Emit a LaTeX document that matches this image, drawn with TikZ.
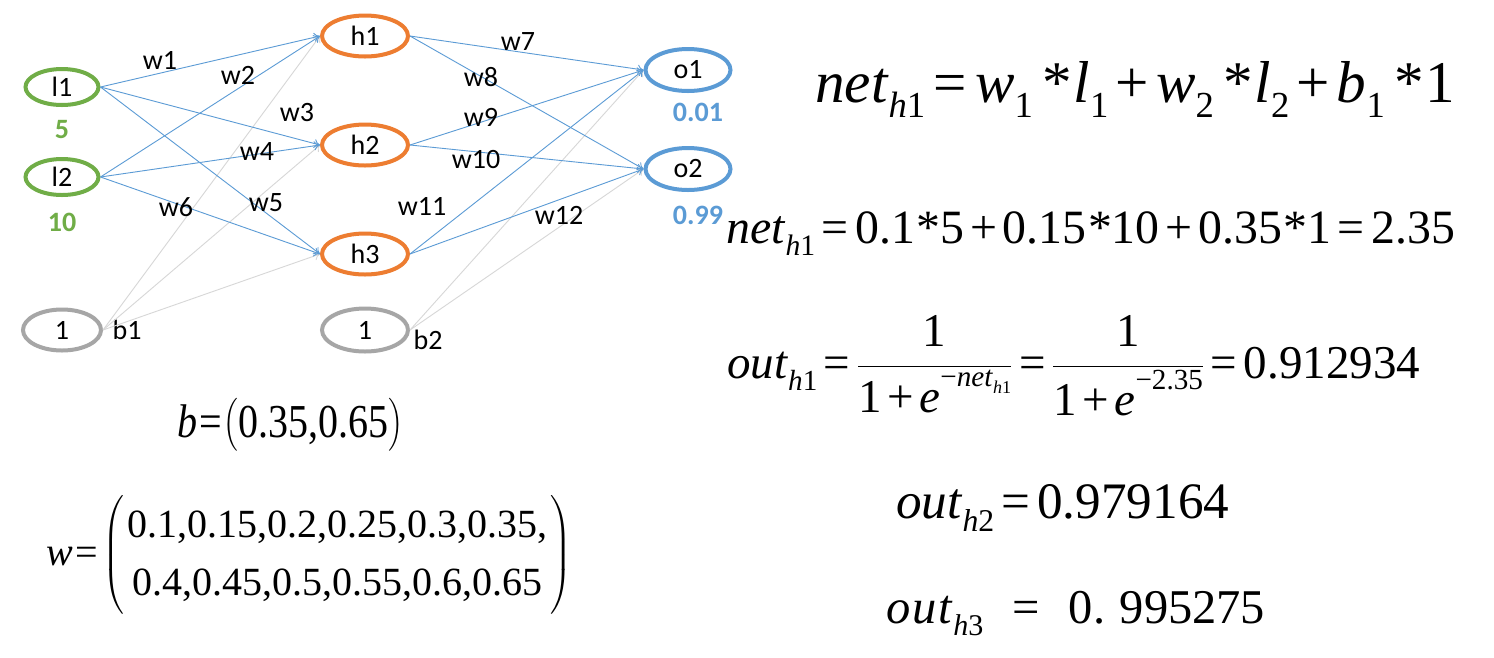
\RequirePackage{fix-cm}
\documentclass[tikz,border=0pt]{standalone}
\usepackage{amsmath}
\usepackage{graphicx}
\usepackage{fontspec}
\setmainfont{Liberation Serif}
\newfontfamily\calib{Carlito}
\newfontfamily\tnr{Liberation Serif}
\usetikzlibrary{arrows.meta,shapes.geometric}
\definecolor{cgreen}{RGB}{112,173,71}
\definecolor{corange}{RGB}{237,125,49}
\definecolor{cblue}{RGB}{91,155,213}
\definecolor{cgray}{RGB}{166,166,166}
\definecolor{clight}{RGB}{215,215,215}
\newcommand{\V}[1]{\textit{#1}}
\newcommand{\Sb}[1]{\raisebox{-0.26em}{\scalebox{0.62}{#1}}}
\newcommand{\Sp}[1]{\raisebox{0.55em}{\scalebox{0.62}{#1}}}
\newcommand{\Eq}{\kern0.14em=\kern0.14em}
\newcommand{\Pl}{\kern0.12em+\kern0.12em}
\newcommand{\St}{\kern0.16em*\kern0.03em}
\tikzset{
  neuron/.style={ellipse, draw, line width=4pt, inner sep=0pt,
    font=\calib\fontsize{28}{28}\selectfont},
  innode/.style={neuron, draw=cgreen, minimum width=73pt, minimum height=36pt},
  hidnode/.style={neuron, draw=corange, minimum width=86pt, minimum height=41pt},
  outnode/.style={neuron, draw=cblue, minimum width=85pt, minimum height=42pt},
  biasnode/.style={neuron, draw=cgray, minimum width=78pt, minimum height=41pt},
  conn/.style={draw=cblue, line width=0.9pt, -{To[length=6pt,width=9pt]}},
  bconn/.style={draw=clight, line width=0.9pt, -{To[length=6pt,width=9pt]}},
  wlab/.style={font=\calib\fontsize{28}{28}\selectfont, inner sep=0pt},
  vallab/.style={font=\calib\bfseries\fontsize{28}{28}\selectfont, inner sep=0pt},
  formula/.style={inner sep=0pt, anchor=base west},
}
\begin{document}
\begin{tikzpicture}[x=1pt,y=-1pt]
\useasboundingbox[fill=white] (0,0) rectangle (1494,657);
% nodes
\node[innode] (l1) at (62,87) {l1};
\node[innode] (l2) at (62,177) {l2};
\node[biasnode] (b1n) at (62,330) {1};
\node[hidnode] (h1) at (365,36) {h1};
\node[hidnode] (h2) at (365,145) {h2};
\node[hidnode] (h3) at (365,254) {h3};
\node[biasnode, minimum width=86pt, minimum height=43pt] (b2n) at (365,330) {1};
\node[outnode] (o1) at (688,70) {o1};
\node[outnode] (o2) at (688,169) {o2};
% values
\node[vallab, text=cgreen] (v5) at (62,130) {5};
\node[vallab, text=cgreen] (v10) at (62,222) {10};
\node[vallab, text=cblue] (v001) at (698,112) {0.01};
\node[vallab, text=cblue] (v099) at (698,215) {0.99};
\node[wlab] (lb1) at (127,330) {b1};
\node[wlab] (lb2) at (428,340) {b2};
% bias connectors
\draw[bconn] (b1n.east) -- (h1.west);
\draw[bconn] (b1n.east) -- (h2.west);
\draw[bconn] (b1n.east) -- (h3.west);
\draw[bconn] (b2n.east) -- (o1.west);
\draw[bconn] (b2n.east) -- (o2.west);
% weight connectors
\draw[conn] (l1.east) -- (h1.west);
\draw[conn] (l1.east) -- (h2.west);
\draw[conn] (l1.east) -- (h3.west);
\draw[conn] (l2.east) -- (h1.west);
\draw[conn] (l2.east) -- (h2.west);
\draw[conn] (l2.east) -- (h3.west);
\draw[conn] (h1.east) -- (o1.west);
\draw[conn] (h1.east) -- (o2.west);
\draw[conn] (h2.east) -- (o1.west);
\draw[conn] (h2.east) -- (o2.west);
\draw[conn] (h3.east) -- (o1.west);
\draw[conn] (h3.east) -- (o2.west);
% weight labels
\node[wlab] (w1) at (160,60) {w1};
\node[wlab] (w2) at (238,75) {w2};
\node[wlab] (w3) at (297,113) {w3};
\node[wlab] (w4) at (257,152) {w4};
\node[wlab] (w5) at (266,203) {w5};
\node[wlab] (w6) at (176,207) {w6};
\node[wlab] (w7) at (518,42) {w7};
\node[wlab] (w8) at (481,77) {w8};
\node[wlab] (w9) at (481,117) {w9};
\node[wlab] (w10) at (476,160) {w10};
\node[wlab] (w11) at (422,206) {w11};
\node[wlab] (w12) at (559,215) {w12};
% formulas
\node[formula, font=\tnr\fontsize{54}{60}\selectfont] (f1) at (815,102)
  {\resizebox{640pt}{!}{\V{net}\Sb{\V{h}1}\Eq\V{w}\Sb{1}\St\V{l}\Sb{1}\Pl\V{w}\Sb{2}\St\V{l}\Sb{2}\Pl\V{b}\Sb{1}\St1}};
\node[formula, font=\tnr\fontsize{42}{46}\selectfont] (f2) at (726,243)
  {\resizebox{729pt}{!}{\V{net}\Sb{\V{h}1}\Eq0.1\kern0.03em*5\Pl0.15\kern0.03em*10\Pl0.35\kern0.03em*1\Eq2.35}};
\node[formula, font=\tnr\fontsize{45}{50}\selectfont] (f3) at (727,378)
  {\resizebox{693pt}{!}{\V{out}\Sb{\V{h}1}\Eq$\dfrac{\text{1}}{\text{1\Pl\V{e}\Sp{−\V{net}\Sb{\V{h}1}}}}$\Eq$\dfrac{\text{1}}{\text{1\Pl\V{e}\Sp{−2.35}}}$\Eq0.912934}};
\node[formula, font=\tnr\fontsize{49}{52}\selectfont] (f4) at (896,518)
  {\resizebox{333pt}{!}{\V{out}\Sb{\V{h}2}\Eq0.979164}};
\node[formula, font=\tnr\fontsize{47}{50}\selectfont] (f5) at (886,623)
  {\resizebox{379pt}{!}{\V{o\kern2pt u\kern2pt t}\Sb{\V{h}3}\kern0.6em=\kern0.6em0.\kern0.3em995275}};
\node[formula, font=\tnr\fontsize{40}{44}\selectfont] (fb) at (177,437)
  {\scalebox{1}[1.18]{\resizebox{226pt}{!}{\V{b}\kern0.06em=\kern0.03em$\bigl($0.35,0.65$\bigr)$}}};
\node[formula, font=\tnr\fontsize{40}{44}\selectfont] (fw) at (46,565)
  {\V{w}\kern0.06em=\kern0.12em$\left(\renewcommand{\arraystretch}{1.32}\begin{tabular}{@{\kern3pt}c@{\kern3pt}}0.1,0.15,0.2,0.25,0.3,0.35,\\0.4,0.45,0.5,0.55,0.6,0.65\end{tabular}\right)$};
\end{tikzpicture}
\end{document}
